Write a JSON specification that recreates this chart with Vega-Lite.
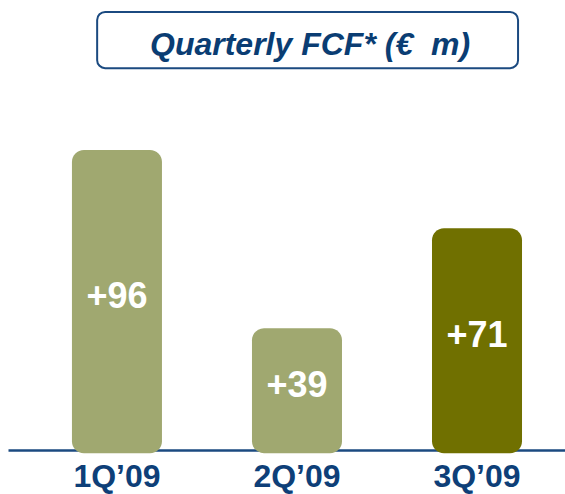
{
  "$schema": "https://vega.github.io/schema/vega-lite/v6.json",
  "autosize": {"type": "none"},
  "padding": {"left": 8, "top": 0, "right": 0, "bottom": 44},
  "width": 557,
  "height": 450,
  "background": "white",
  "config": {"view": {"stroke": null}, "font": "Liberation Sans"},
  "data": {"values": [
    {"quarter": "1Q’09", "fcf": 96, "label": "+96", "shade": "light"},
    {"quarter": "2Q’09", "fcf": 39, "label": "+39", "shade": "light"},
    {"quarter": "3Q’09", "fcf": 71, "label": "+71", "shade": "dark"}
  ]},
  "encoding": {
    "x": {
      "field": "quarter", "type": "nominal", "sort": null,
      "scale": {"paddingInner": 0.5, "paddingOuter": 0.297, "align": 0.598},
      "axis": {
        "title": null, "labelAngle": 0, "ticks": false,
        "domainColor": "#1B4A80", "domainWidth": 2.5,
        "labelColor": "#0E3F78", "labelFontSize": 32, "labelFontWeight": "bold",
        "labelFont": "Liberation Sans", "labelPadding": 11
      }
    }
  },
  "layer": [
    {
      "mark": {"type": "bar", "cornerRadius": 12, "clip": false},
      "encoding": {
        "y": {"field": "fcf", "type": "quantitative", "scale": {"domain": [0, 144], "nice": false, "zero": false}, "axis": null},
        "y2": {"datum": -1},
        "color": {"field": "shade", "type": "nominal", "scale": {"domain": ["light", "dark"], "range": ["#A0A870", "#707000"]}, "legend": null}
      }
    },
    {
      "transform": [{"calculate": "datum.fcf / 2", "as": "mid"}],
      "mark": {"type": "text", "color": "white", "fontSize": 36, "fontWeight": "bold", "baseline": "middle", "align": "center", "dy": -3},
      "encoding": {
        "y": {"field": "mid", "type": "quantitative"},
        "text": {"field": "label"}
      }
    },
    {
      "data": {"values": [{"from": "1Q’09", "to": "3Q’09"}]},
      "mark": {"type": "rect", "fill": "white", "stroke": "#1B4A80", "strokeWidth": 2, "cornerRadius": 8, "clip": false},
      "encoding": {
        "x": {"field": "from", "type": "nominal", "bandPosition": 0.28},
        "x2": {"field": "to", "bandPosition": 0.956},
        "y": {"datum": 140.2},
        "y2": {"datum": 122.2}
      }
    },
    {
      "data": {"values": [{"title": "Quarterly FCF* (€\u00a0\u00a0m)", "mid": "2Q’09"}]},
      "mark": {"type": "text", "color": "#0A3D73", "fontSize": 32, "fontWeight": "bold", "fontStyle": "italic", "baseline": "middle", "align": "center"},
      "encoding": {
        "x": {"field": "mid", "type": "nominal", "bandPosition": 0.645},
        "y": {"datum": 129.6},
        "text": {"field": "title"}
      }
    }
  ]
}
